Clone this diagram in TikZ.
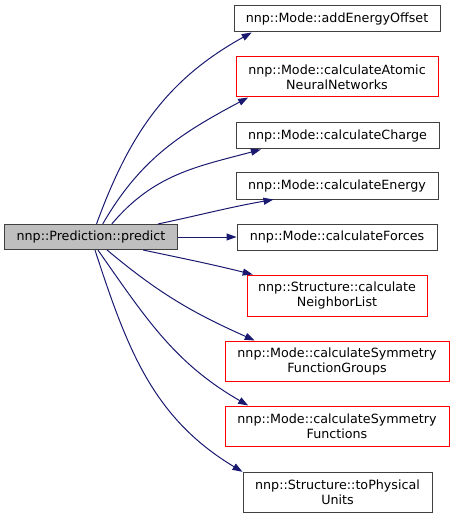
\documentclass[tikz,border=0pt]{standalone}
\usepackage{fontspec}
\setmainfont{DejaVu Sans}
\usepackage{tikz}
\usetikzlibrary{arrows.meta,positioning}
\usepackage{xcolor}
\definecolor{edgeblue}{HTML}{191970}
\definecolor{boxgray}{HTML}{404040}
\definecolor{mainfill}{HTML}{BFBFBF}

\begin{document}
\begin{tikzpicture}[
  x=1bp, y=-1bp,
  fn/.style={rectangle,draw=boxgray,line width=1bp,inner sep=0pt,align=center,
    font=\fontsize{12.7bp}{15bp}\selectfont,minimum height=26bp},
  fnred/.style={fn,draw=red},
  self/.style={fn,fill=mainfill,minimum height=25bp},
  call/.style={-{Triangle[length=10bp,width=7bp]},draw=edgeblue,line width=1bp}
]
\useasboundingbox (0,0) rectangle (455,518);
\node[self,minimum width=172bp] (pred) at (91,237) {nnp::Prediction::predict};
\node[fn,minimum width=206bp] (aeo) at (337,19) {nnp::Mode::addEnergyOffset};
\node[fnred,minimum width=202bp,minimum height=40bp] (cann) at (337,77) {nnp::Mode::calculateAtomic\\NeuralNetworks};
\node[fn,minimum width=203bp] (cch) at (337.5,136) {nnp::Mode::calculateCharge};
\node[fn,minimum width=202bp] (cen) at (337,186) {nnp::Mode::calculateEnergy};
\node[fn,minimum width=200bp] (cfo) at (337,237) {nnp::Mode::calculateForces};
\node[fnred,minimum width=180bp,minimum height=41bp] (cnl) at (337,295.5) {nnp::Structure::calculate\\NeighborList};
\node[fnred,minimum width=224bp,minimum height=40bp] (csg) at (337,361) {nnp::Mode::calculateSymmetry\\FunctionGroups};
\node[fnred,minimum width=224bp,minimum height=40bp] (csf) at (337,426) {nnp::Mode::calculateSymmetry\\Functions};
\node[fn,minimum width=189bp,minimum height=40bp] (tpu) at (337.5,492) {nnp::Structure::toPhysical\\Units};
% calls
\draw[call] (pred.67) to[out=70,in=209] (aeo.189);
\draw[call] (pred.48) to[out=60,in=208] (cann.193);
\draw[call] (pred.32) to[out=50,in=195] (cch.190);
\draw[call] (pred.11) to[out=12,in=190] (cen.192);
\draw[call] (pred) -- (cfo);
\draw[call] (pred.-14) to[out=-12,in=166] (cnl.166);
\draw[call] (pred.-39) to[out=-40,in=156] (csg.166);
\draw[call] (pred.-62) to[out=-55,in=150] (csf.167);
\draw[call] (pred.-73) to[out=-72,in=149] (tpu.168);
\end{tikzpicture}
\end{document}
